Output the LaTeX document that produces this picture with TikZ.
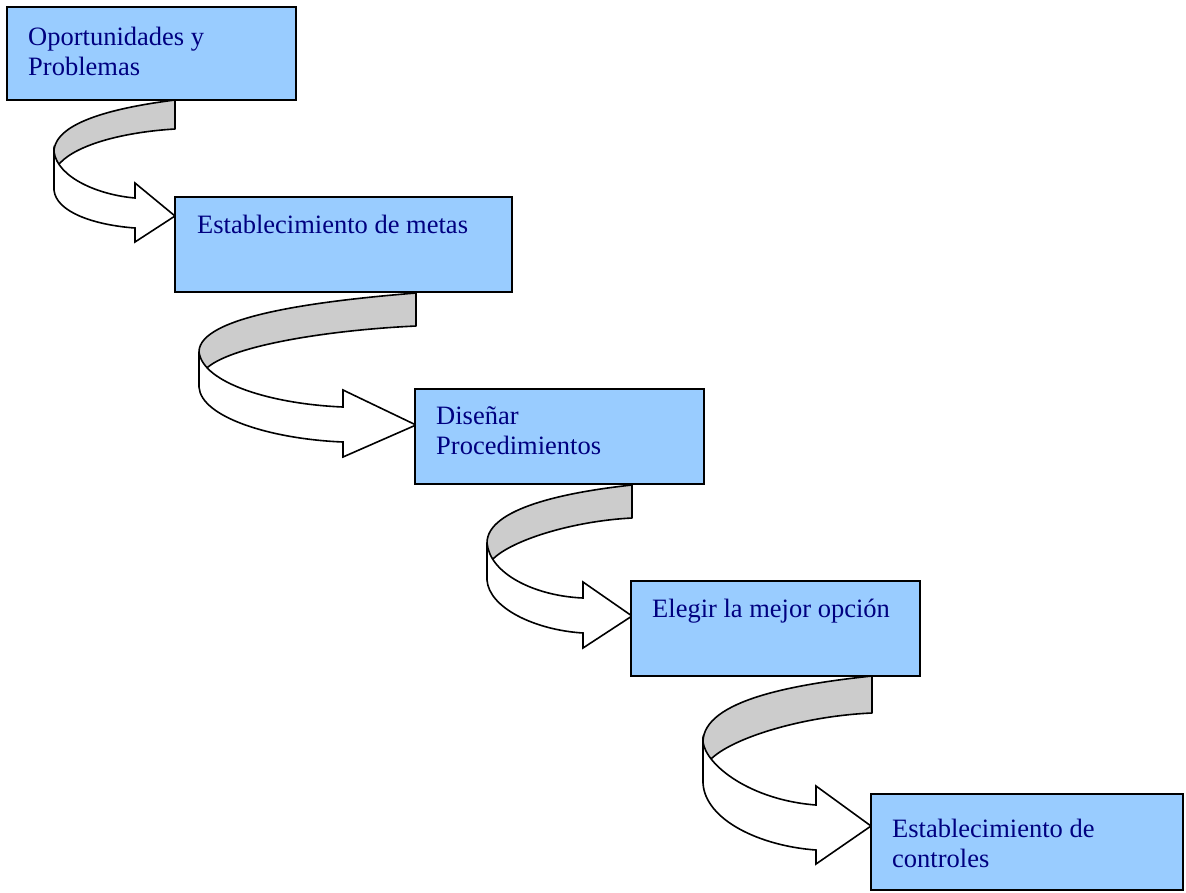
\documentclass[tikz,border=0pt]{standalone}
\usepackage{fontspec}
\setmainfont{Liberation Serif}
\definecolor{boxfill}{HTML}{99CCFF}
\definecolor{labelblue}{HTML}{000080}
\definecolor{bandgrey}{HTML}{CCCCCC}
\tikzset{
  box/.style={draw=black, line width=2pt, fill=boxfill, inner sep=0pt, outer sep=0pt, anchor=north west},
  lbl/.style={text=labelblue, font=\fontsize{26.5pt}{30pt}\selectfont, inner sep=0pt, anchor=base west},
  backband/.style={draw=black, line width=1.6pt, fill=bandgrey, line join=round},
  frontband/.style={draw=black, line width=1.6pt, fill=white, line join=miter},
}
% two text lines, the box baseline being that of the first line
\newcommand{\stackedlines}[2]{\vtop{\hbox{#1}\hbox{#2}}}
\begin{document}
\begin{tikzpicture}[x=1pt,y=-1pt]
\useasboundingbox (0,0) rectangle (1186,892);

% curled ribbon arrows: grey inner face first, white outer face with the head on top
\draw[backband] (175,100) -- (175,129) .. controls (125,132) and (78,144) .. (60,163)
  -- ++(-5,5) -- (54,162) -- (54,152) .. controls (54,121) and (120,107) .. (175,100) -- cycle;
\draw[frontband] (54,152) .. controls (58,178) and (99,195) .. (135,198) -- (135,183)
  -- (175,216) -- (135,242) -- (135,228) .. controls (94,225) and (56,212) .. (54,190) -- cycle;

\draw[backband] (416,293) -- (416,326) .. controls (330,330) and (235,345) .. (208,367)
  -- ++(-5,5) -- (199,362) -- (199,352) .. controls (199,316) and (318,301) .. (416,293) -- cycle;
\draw[frontband] (199,352) .. controls (203,383) and (271,404) .. (343,407) -- (343,390)
  -- (416,425) -- (343,457) -- (343,442) .. controls (270,439) and (201,417) .. (199,387) -- cycle;

\draw[backband] (632,485) -- (632,518) .. controls (573,521) and (512,540) .. (493,559)
  -- ++(-5,5) -- (487,553) -- (487,543) .. controls (487,508) and (567,492) .. (632,485) -- cycle;
\draw[frontband] (487,543) .. controls (490,574) and (535,596) .. (583,598) -- (583,582)
  -- (632,616) -- (583,648) -- (583,633) .. controls (535,630) and (489,608) .. (487,580) -- cycle;

\draw[backband] (872,676) -- (872,713) .. controls (803,716) and (731,738) .. (710,760)
  -- ++(-5,5) -- (703,752) -- (703,742) .. controls (703,700) and (796,684) .. (872,676) -- cycle;
\draw[frontband] (703,742) .. controls (706,765) and (750,800) .. (816,805) -- (816,786)
  -- (871,826) -- (816,864) -- (816,850) .. controls (760,846) and (705,820) .. (703,783) -- cycle;

% step boxes
\node[box, minimum width=289pt, minimum height=93pt] (b1) at (7,7) {};
\node[box, minimum width=337pt, minimum height=95pt] (b2) at (175,197) {};
\node[box, minimum width=289pt, minimum height=95pt] (b3) at (415,389) {};
\node[box, minimum width=289pt, minimum height=95pt] (b4) at (631,581) {};
\node[box, minimum width=312pt, minimum height=96pt] (b5) at (871,794) {};

% step labels
\node[lbl] (t1) at (28,45) {\stackedlines{Oportunidades y}{Problemas}};
\node[lbl] (t2) at (197,233) {Establecimiento de metas};
\node[lbl] (t3) at (436,424) {\stackedlines{Diseñar}{Procedimientos}};
\node[lbl] (t4) at (652,617) {Elegir la mejor opción};
\node[lbl] (t5) at (892,837) {\stackedlines{Establecimiento de}{controles}};
\end{tikzpicture}
\end{document}
